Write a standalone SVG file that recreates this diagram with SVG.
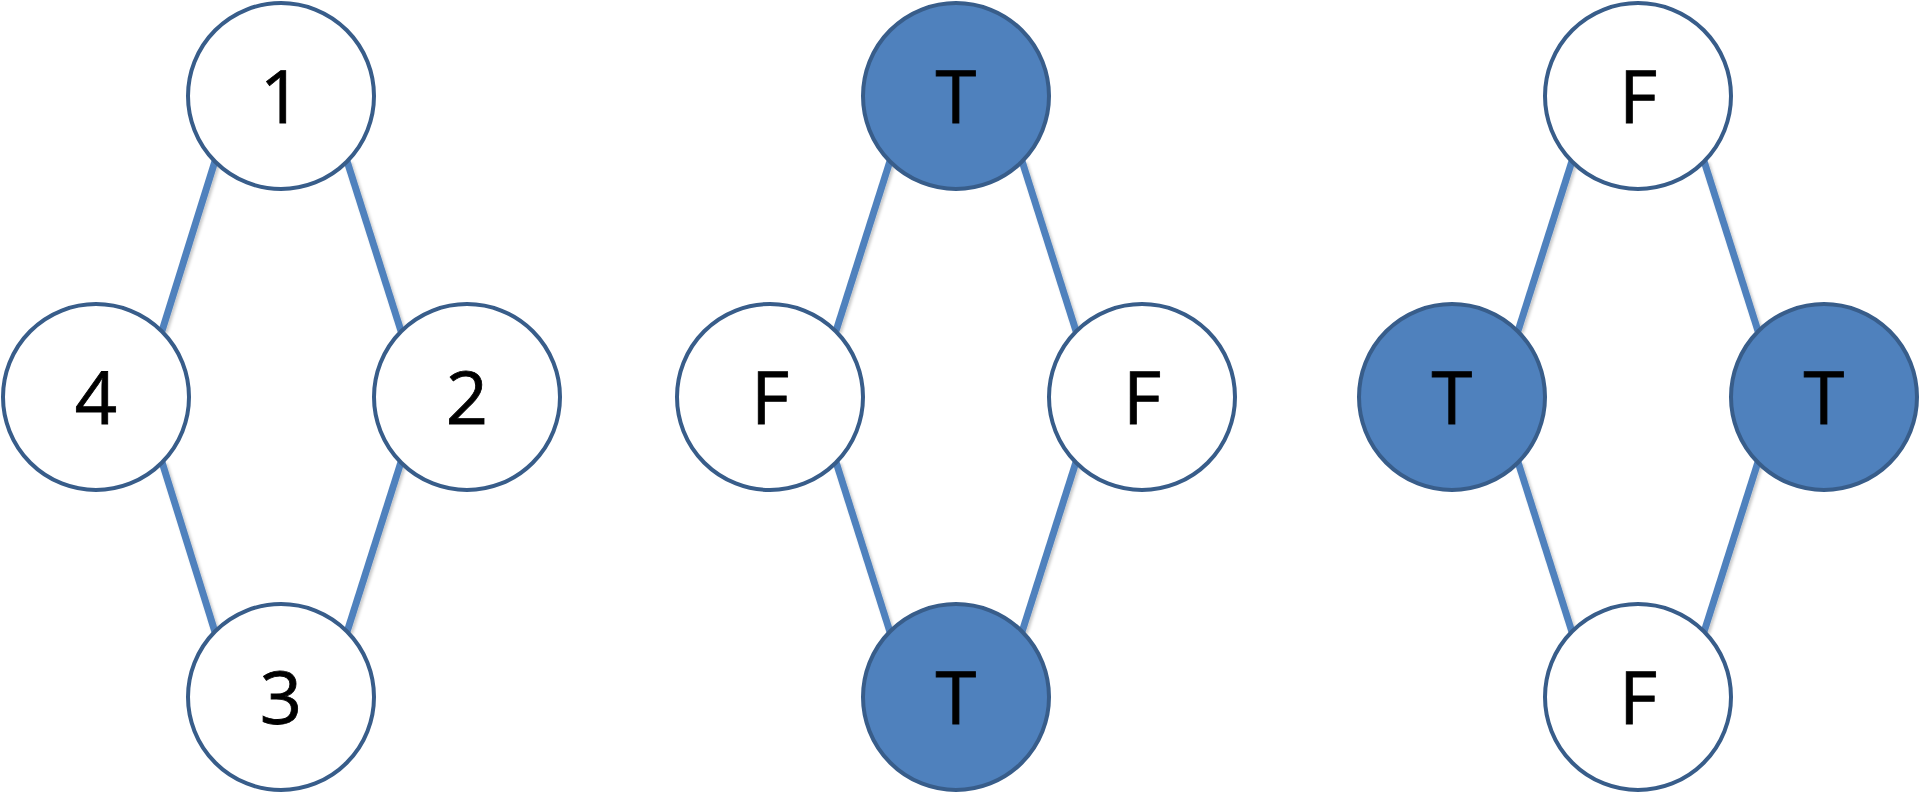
<svg xmlns="http://www.w3.org/2000/svg" width="1920" height="797" viewBox="0 0 1920 797">
  <style>
    .edge { stroke: #4F81BD; stroke-width: 7; fill: none; stroke-linecap: butt; }
    .node circle { stroke: #385D8A; stroke-width: 4; }
    .f circle { fill: #FFFFFF; }
    .t circle { fill: #4F81BD; }
    .node text { font-family: "Open Sans", "Noto Sans", "DejaVu Sans", sans-serif; font-size: 74px; fill: #000000; text-anchor: middle; stroke: #000000; stroke-width: 0.8; }
  </style>
  <defs>
    <filter id="sh" x="-20%" y="-20%" width="140%" height="140%">
      <feDropShadow dx="2" dy="2" stdDeviation="1.5" flood-color="#000000" flood-opacity="0.22"/>
    </filter>
  </defs>
  <rect width="1920" height="797" fill="#FFFFFF"/>
  <g id="connectors" filter="url(#sh)">
    <!-- graph 1 -->
    <line class="edge" x1="215" y1="161" x2="162" y2="331"/>
    <line class="edge" x1="347" y1="161" x2="401" y2="331"/>
    <line class="edge" x1="162" y1="462" x2="215" y2="632"/>
    <line class="edge" x1="401" y1="462" x2="347" y2="632"/>
    <!-- graph 2 -->
    <line class="edge" x1="890" y1="161" x2="836" y2="331"/>
    <line class="edge" x1="1022" y1="161" x2="1076" y2="331"/>
    <line class="edge" x1="836" y1="462" x2="890" y2="632"/>
    <line class="edge" x1="1076" y1="462" x2="1022" y2="632"/>
    <!-- graph 3 -->
    <line class="edge" x1="1572" y1="161" x2="1518" y2="331"/>
    <line class="edge" x1="1704" y1="161" x2="1758" y2="331"/>
    <line class="edge" x1="1518" y1="462" x2="1572" y2="632"/>
    <line class="edge" x1="1758" y1="462" x2="1704" y2="632"/>
  </g>
  <!-- graph 1 -->
  <g id="g1n1" class="node f"><circle cx="281" cy="96" r="93"/><text x="281" y="123">1</text></g>
  <g id="g1n2" class="node f"><circle cx="467" cy="397" r="93"/><text x="467" y="424">2</text></g>
  <g id="g1n3" class="node f"><circle cx="281" cy="697" r="93"/><text x="281" y="724">3</text></g>
  <g id="g1n4" class="node f"><circle cx="96" cy="397" r="93"/><text x="96" y="424">4</text></g>
  <!-- graph 2 -->
  <g id="g2top" class="node t"><circle cx="956" cy="96" r="93"/><text x="956" y="123">T</text></g>
  <g id="g2right" class="node f"><circle cx="1142" cy="397" r="93"/><text x="1142" y="424">F</text></g>
  <g id="g2bottom" class="node t"><circle cx="956" cy="697" r="93"/><text x="956" y="724">T</text></g>
  <g id="g2left" class="node f"><circle cx="770" cy="397" r="93"/><text x="770" y="424">F</text></g>
  <!-- graph 3 -->
  <g id="g3top" class="node f"><circle cx="1638" cy="96" r="93"/><text x="1638" y="123">F</text></g>
  <g id="g3right" class="node t"><circle cx="1824" cy="397" r="93"/><text x="1824" y="424">T</text></g>
  <g id="g3bottom" class="node f"><circle cx="1638" cy="697" r="93"/><text x="1638" y="724">F</text></g>
  <g id="g3left" class="node t"><circle cx="1452" cy="397" r="93"/><text x="1452" y="424">T</text></g>
</svg>
